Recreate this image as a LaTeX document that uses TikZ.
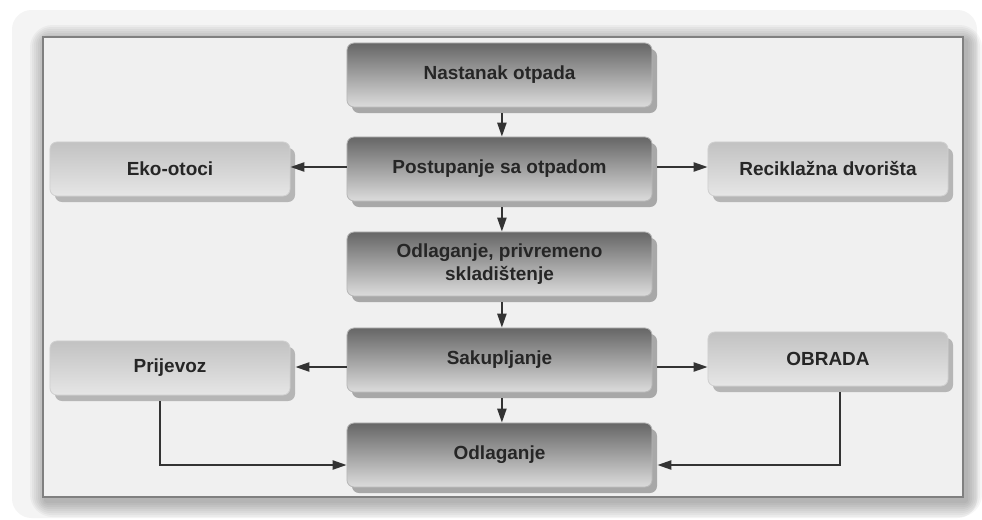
\documentclass[tikz,border=0pt]{standalone}
\usepackage{fontspec}
\setmainfont{Liberation Sans}
\usetikzlibrary{arrows.meta,shadows}
\definecolor{panel}{HTML}{F0F0F0}
\definecolor{outerbg}{HTML}{F4F4F4}
\definecolor{framegray}{HTML}{808080}
\definecolor{mainback}{HTML}{A8A8A8}
\definecolor{mainedge}{HTML}{B8B8B8}
\definecolor{maintop}{HTML}{666666}
\definecolor{mainbottom}{HTML}{DCDCDC}
\definecolor{sideback}{HTML}{B6B6B6}
\definecolor{sideedge}{HTML}{D0D0D0}
\definecolor{sidetop}{HTML}{C2C2C2}
\definecolor{sidebottom}{HTML}{E6E6E6}
\definecolor{textgray}{HTML}{262626}
\definecolor{linegray}{HTML}{333333}
\begin{document}
\begin{tikzpicture}[x=0.025cm, y=-0.025cm,
  boxtext/.style={font=\fontsize{13.5}{16}\selectfont\bfseries, text=textgray, align=center},
  mainbox/.style={boxtext, rounded corners=5pt, draw=mainedge, line width=0.6pt,
    top color=maintop, bottom color=mainbottom, minimum width=7.625cm, minimum height=1.6cm,
    drop shadow={shadow xshift=1.25mm, shadow yshift=-1.5mm, fill=mainback, opacity=1}},
  sidebox/.style={boxtext, rounded corners=5pt, draw=sideedge, line width=0.6pt,
    top color=sidetop, bottom color=sidebottom, minimum width=6cm, minimum height=1.35cm,
    drop shadow={shadow xshift=1.25mm, shadow yshift=-1.5mm, fill=sideback, opacity=1}},
  arr/.style={-{Triangle[length=3.5mm,width=2.3mm]}, line width=1.3pt, draw=linegray}]

% background and frame
\fill[white] (0,0) rectangle (982,520);
\fill[outerbg, rounded corners=14pt] (12,10) rectangle (977,518);
\foreach \d in {2,4,...,16}
  \fill[black, opacity=.035, rounded corners=\d] (46-\d,41-\d) rectangle (966+\d,501+\d);
\draw[framegray, line width=2pt, fill=panel] (43,37) rectangle (963,497);

% main column
\node[mainbox] (nast) at (499.5,75) {Nastanak otpada};
\node[mainbox] (post) at (499.5,169) {Postupanje sa otpadom};
\node[mainbox] (odl) at (499.5,264) {Odlaganje, privremeno\\skladištenje};
\node[mainbox] (sak) at (499.5,360) {Sakupljanje};
\node[mainbox] (odl2) at (499.5,455) {Odlaganje};

% side boxes
\node[sidebox] (eko) at (170,169) {Eko-otoci};
\node[sidebox] (rec) at (828,169) {Reciklažna dvorišta};
\node[sidebox] (prij) at (170,368) {Prijevoz};
\node[sidebox] (obr) at (828,359) {OBRADA};

% edges
\draw[arr] ([xshift=0.6mm,yshift=-1.5mm]nast.south) -- ([xshift=0.6mm]post.north);
\draw[arr] ([xshift=0.6mm,yshift=-1.5mm]post.south) -- ([xshift=0.6mm]odl.north);
\draw[arr] ([xshift=0.6mm,yshift=-1.5mm]odl.south) -- ([xshift=0.6mm]sak.north);
\draw[arr] ([xshift=0.6mm,yshift=-1.5mm]sak.south) -- ([xshift=0.6mm]odl2.north);
\coordinate (postl) at ([yshift=0.5mm]post.west);
\coordinate (postr) at ([xshift=1.25mm,yshift=0.5mm]post.east);
\draw[arr] (postl) -- (postl -| eko.east);
\draw[arr] (postr) -- (postr -| rec.west);
\coordinate (sakl) at ([yshift=-1.75mm]sak.west);
\coordinate (sakr) at ([xshift=1.25mm,yshift=-1.75mm]sak.east);
\draw[arr] (sakl) -- ([xshift=1.25mm]sakl -| prij.east);
\draw[arr] (sakr) -- (sakr -| obr.west);
\coordinate (odll) at ([yshift=-2.5mm]odl2.west);
\coordinate (odlr) at ([xshift=1.25mm,yshift=-2.5mm]odl2.east);
\draw[arr] ([xshift=-2.5mm,yshift=-1.5mm]prij.south) |- (odll);
\draw[arr] ([xshift=3mm,yshift=-1.5mm]obr.south) |- (odlr);
\end{tikzpicture}
\end{document}
